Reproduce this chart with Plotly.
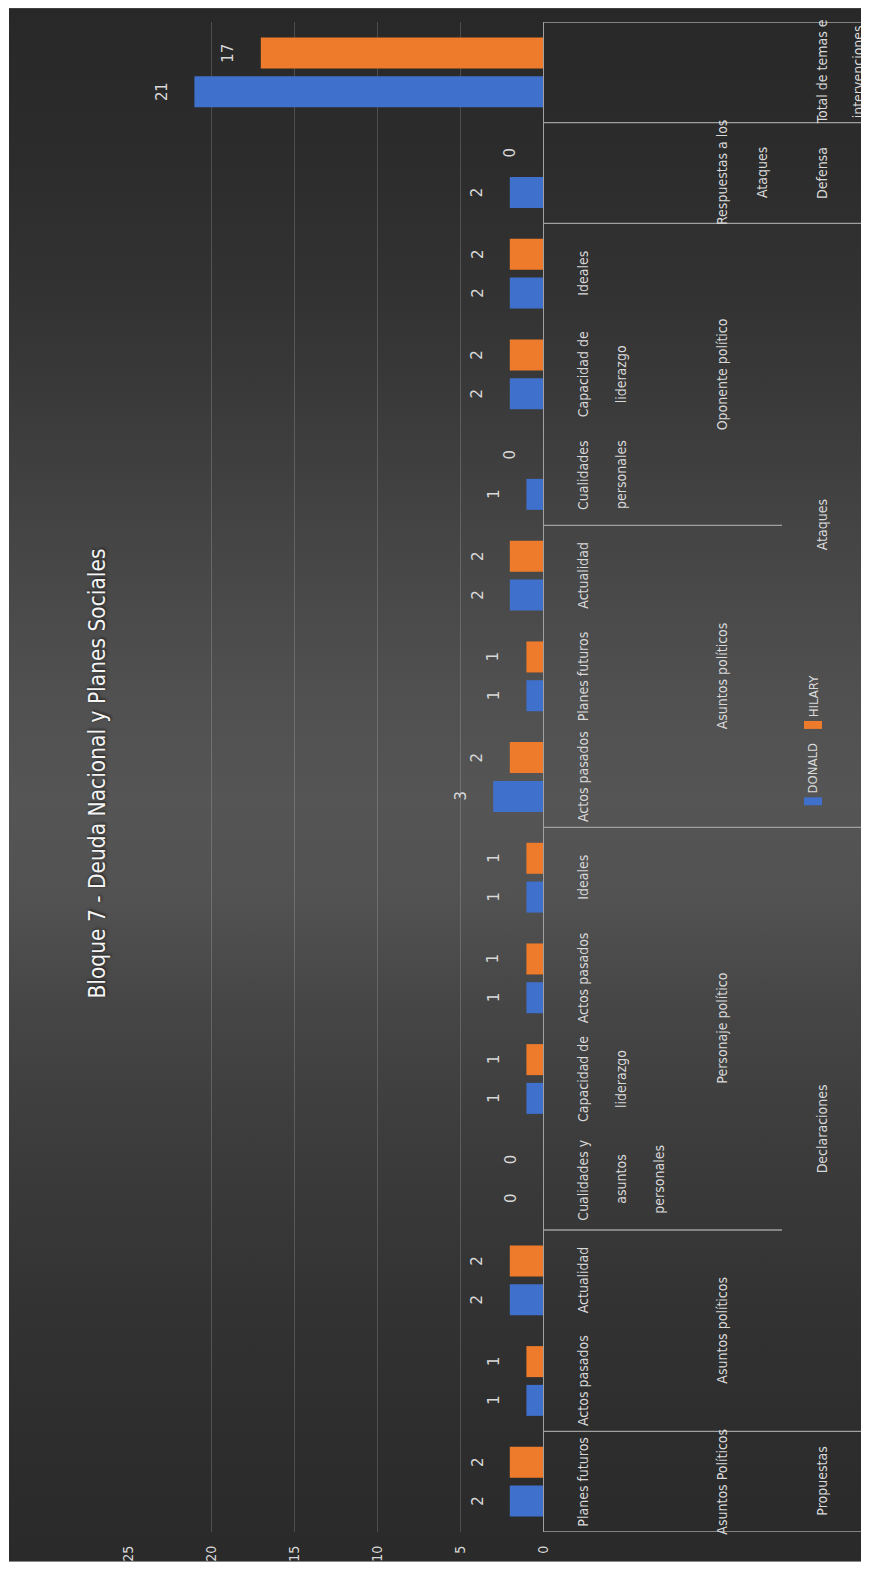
import base64
import plotly.graph_objects as go

# ---------------- data ----------------
categories = ["Planes futuros", "Actos pasados", "Actualidad",
              "Cualidades y\nasuntos\npersonales", "Capacidad de\nliderazgo",
              "Actos pasados", "Ideales", "Actos pasados", "Planes futuros",
              "Actualidad", "Cualidades\npersonales", "Capacidad de\nliderazgo",
              "Ideales", "", ""]
level2_groups = ["Asuntos Políticos", "Asuntos políticos", "Personaje político",
                 "Asuntos políticos", "Oponente político", "Respuestas a los\nAtaques", ""]
level2_sizes = [1, 2, 4, 3, 3, 1, 1]
level3_groups = ["Propuestas", "Declaraciones", "Ataques", "Defensa",
                 "Total de temas e\nintervenciones"]
level3_sizes = [1, 6, 6, 1, 1]
donald = [2, 1, 2, 0, 1, 1, 1, 3, 1, 2, 1, 2, 2, 2, 21]
hilary = [2, 1, 2, 0, 1, 1, 1, 2, 1, 2, 0, 2, 2, 0, 17]
series_names = ["DONALD", "HILARY"]
value_ticks = [0, 5, 10, 15, 20, 25]
title_text = "Bloque 7 - Deuda Nacional y Planes Sociales"

# ---------------- styling ----------------
OFF = 8                      # page body margin
W, H = 869 - OFF, 1574 - OFF
ML, MT = 128 - OFF, 22 - OFF
MR = W - (543 - OFF)
MB = H - (1545 - OFF)
PW, PH = W - ML - MR, H - MT - MB
BLUE, ORANGE = "#3f70cc", "#ee7b2b"
TXT = "#d9d9d9"
LINE = "#a0a0a0"
FONT = "Liberation Sans Narrow, DejaVu Sans Condensed, Arial Narrow, sans-serif"
BARGAP, GROUPGAP = 0.23, 0.2
LAB_SIZE = 14


def px_x(px):
    return (px - OFF - ML) / PW


def px_y(py):
    return (MT + PH - (py - OFF)) / PH


ypos = list(range(len(categories)))

fig = go.Figure()
for name, vals, col in [(series_names[0], donald, BLUE), (series_names[1], hilary, ORANGE)]:
    fig.add_trace(go.Bar(x=vals, y=ypos, orientation="h", name=name,
                         marker=dict(color=col, line=dict(width=0)),
                         showlegend=False, hoverinfo="x+name"))

annotations = []
shapes = []


def rot_text(x, y, text, size, color=TXT, xref="paper", yref="paper", **kw):
    d = dict(x=x, y=y, xref=xref, yref=yref, text=text, showarrow=False, textangle=-90,
             xanchor="center", yanchor="middle",
             font=dict(family=FONT, size=size, color=color))
    d.update(kw)
    annotations.append(d)


# data labels
off = (1 - BARGAP) / 4
for vals, sgn in [(donald, -1), (hilary, 1)]:
    for i, v in enumerate(vals):
        rot_text(v, i + sgn * off, str(v), 16.5, xref="x", yref="y", xshift=-33)

# level 1 labels
for i, lab in enumerate(categories):
    for k, line in enumerate(lab.split("\n")):
        if line:
            rot_text(px_x(583 + 38 * k), i, line, LAB_SIZE, yref="y")


def group_labels(names, sizes, base_px, step_px, size):
    start = 0
    bounds = []
    for name, n in zip(names, sizes):
        center = start + (n - 1) / 2
        for k, line in enumerate(name.split("\n")):
            if line:
                rot_text(px_x(base_px + step_px * k), center, line, size, yref="y")
        start += n
        bounds.append(start - 0.5)
    return bounds


b2 = group_labels(level2_groups, level2_sizes, 722, 40, LAB_SIZE)
b3 = group_labels(level3_groups, level3_sizes, 822, 36, LAB_SIZE)

# table lines
for b in [-0.5] + b3:
    shapes.append(dict(type="line", xref="paper", yref="y", x0=1, x1=px_x(875), y0=b, y1=b,
                       line=dict(color=LINE, width=1.3)))
for b in b2:
    if b not in b3:
        shapes.append(dict(type="line", xref="paper", yref="y", x0=1, x1=px_x(782), y0=b, y1=b,
                           line=dict(color=LINE, width=1.3)))

# legend (rotated)
leg = [(series_names[0], BLUE, 808, 775), (series_names[1], ORANGE, 731, 702)]
for name, col, mk_y, tx_y in leg:
    shapes.append(dict(type="rect", xref="paper", yref="paper",
                       x0=px_x(804), x1=px_x(822), y0=px_y(mk_y + 4), y1=px_y(mk_y - 4),
                       fillcolor=col, line=dict(width=0)))
    rot_text(px_x(813), px_y(tx_y), name, 13)

# title
rot_text(px_x(97), px_y(780), title_text, 22.5, color="#f4f4f4")
annotations[-1]["font"]["shadow"] = "1px 1px 3px rgba(0,0,0,0.7)"

# background gradient
stops = [(0, "#282828"), (10, "#2c2c2c"), (19, "#333333"), (26, "#3b3b3b"), (35, "#464646"),
         (44, "#505050"), (51, "#555555"), (57, "#525252"), (64, "#464646"), (73, "#3c3c3c"),
         (83, "#333333"), (92, "#2d2d2d"), (100, "#2a2a2a")]
stop_xml = "".join(f'<stop offset="{o}%" stop-color="{c}"/>' for o, c in stops)
svg = ('<svg xmlns="http://www.w3.org/2000/svg" width="860" height="1568" preserveAspectRatio="none">'
       '<defs><linearGradient id="g" x1="0" y1="0" x2="0" y2="1">' + stop_xml +
       '</linearGradient></defs><rect width="860" height="1568" fill="url(#g)"/></svg>')
src = "data:image/svg+xml;base64," + base64.b64encode(svg.encode()).decode()

fig.update_layout(
    width=W, height=H,
    margin=dict(l=ML, r=MR, t=MT, b=MB, pad=0),
    paper_bgcolor="white", plot_bgcolor="rgba(0,0,0,0)",
    barmode="group", bargap=BARGAP, bargroupgap=GROUPGAP,
    annotations=annotations, shapes=shapes,
    images=[dict(source=src, xref="paper", yref="paper", x=px_x(9), y=px_y(8),
                 sizex=(W - 1) / PW, sizey=(H + 1) / PH, xanchor="left", yanchor="top",
                 sizing="stretch", layer="below")],
    xaxis=dict(range=[25, 0], tickvals=value_ticks, tickangle=-90, showgrid=True,
               gridcolor="rgba(255,255,255,0.17)", gridwidth=1, zeroline=False, showline=False,
               ticks="", ticklabelstandoff=10,
               tickfont=dict(family=FONT, size=14, color=TXT)),
    yaxis=dict(range=[-0.5, len(categories) - 0.5], showticklabels=False, showgrid=False,
               zeroline=False, side="right", showline=True, linecolor=LINE, linewidth=1.3,
               ticks=""),
    showlegend=False,
)

fig.write_html("out.html")
